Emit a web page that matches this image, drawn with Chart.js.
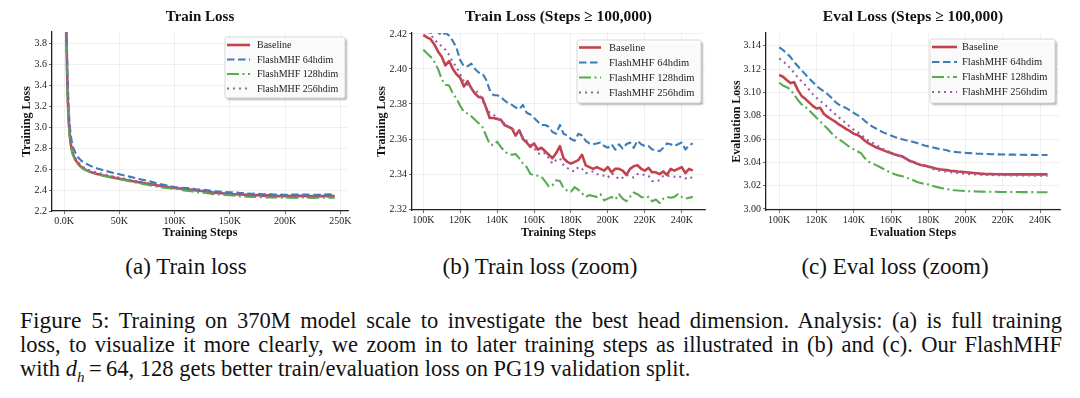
<!DOCTYPE html>
<html><head><meta charset="utf-8">
<script src="https://cdn.jsdelivr.net/npm/chart.js@4.4.0/dist/chart.umd.min.js"></script>
<style>
html,body{margin:0;padding:0;background:#fff;}
body{width:1080px;height:398px;overflow:hidden;position:relative;font-family:"Liberation Serif","Times New Roman",serif;color:#111;}
canvas{position:absolute;top:0;}
.sub{position:absolute;top:255px;width:300px;text-align:center;font-size:23px;line-height:24px;}
.cap{position:absolute;left:20px;top:308px;width:1042px;font-size:22.5px;line-height:24px;}
.cap div{white-space:nowrap;}
.cap span.ln{display:inline-block;}
.cap .fig{font-size:23.5px;}
sub{font-size:15px;line-height:0;}
</style>
</head><body>
<canvas id="ca" width="360" height="240" style="left:0"></canvas>
<canvas id="cb" width="360" height="240" style="left:360px"></canvas>
<canvas id="cc" width="360" height="240" style="left:720px"></canvas>
<div class="sub" style="left:36px">(a) Train loss</div>
<div class="sub" style="left:390px">(b) Train loss (zoom)</div>
<div class="sub" style="left:745px">(c) Eval loss (zoom)</div>
<div class="cap">
<div><span class="ln just"><span class="fig">Figure 5:</span> Training on 370M model scale to investigate the best head dimension. Analysis: (a) is full training</span></div>
<div><span class="ln just">loss, to visualize it more clearly, we zoom in to later training steps as illustrated in (b) and (c). Our FlashMHF</span></div>
<div><span class="ln">with <i>d</i><sub><i>h</i></sub>&#8201;=&#8201;64, 128 gets better train/evaluation loss on PG19 validation split.</span></div>
</div>
<script>
// ---------------- DATA ----------------
const SERIES_LABELS = ['Baseline', 'FlashMHF 64hdim', 'FlashMHF 128hdim', 'FlashMHF 256hdim'];

// (a) full training loss, steps in K
const A_STEPS = [1,2,3,4,5,6,7,8,10,12,14,16,18,20,23,26,30,35,40,45,50,55,60,65,70,75,80,85,90,95,100,105,110,115,120,125,130,135,140,145,150,155,160,165,170,175,180,185,190,195,200,205,210,215,220,225,230,235,240,245];
const A_BASELINE = [4.6,3.9,3.35,3.08,2.93,2.84,2.78,2.74,2.69,2.66,2.635,2.615,2.6,2.59,2.575,2.565,
 2.553,2.54,2.528,2.518,2.508,2.498,2.488,2.478,2.47,2.46,2.452,2.442,2.435,2.427,
 2.419,2.414,2.407,2.402,2.395,2.391,2.384,2.375,2.3715,2.367,2.362,2.359,2.3575,2.354,2.349,2.352,2.346,2.349,2.344,2.3435,
 2.344,2.343,2.3395,2.3447,2.342,2.341,2.3415,2.3425,2.344,2.3425];
const A_64 = [4.8,4.0,3.5,3.2,3.02,2.92,2.86,2.81,2.76,2.72,2.695,2.675,2.66,2.65,2.635,2.62,
 2.605,2.59,2.575,2.562,2.55,2.538,2.525,2.512,2.5,2.488,2.475,2.462,2.45,2.438,
 2.428,2.4215,2.419,2.417,2.405,2.402,2.398,2.3885,2.385,2.381,2.378,2.377,2.372,2.368,2.364,2.366,2.36,2.3625,2.3575,2.358,
 2.355,2.356,2.357,2.357,2.356,2.354,2.355,2.3565,2.358,2.357];
const A_128 = [4.6,3.85,3.3,3.05,2.91,2.83,2.775,2.735,2.685,2.655,2.63,2.61,2.597,2.587,2.573,2.562,
 2.55,2.537,2.525,2.514,2.503,2.492,2.481,2.47,2.46,2.45,2.44,2.43,2.422,2.416,
 2.411,2.4045,2.394,2.388,2.379,2.374,2.369,2.3595,2.3585,2.352,2.3515,2.345,2.3395,2.337,2.3335,2.334,2.33,2.33,2.328,2.3278,
 2.326,2.327,2.3245,2.329,2.3265,2.325,2.326,2.3268,2.327,2.3268];
const A_256 = [4.7,3.95,3.4,3.12,2.96,2.87,2.805,2.76,2.71,2.675,2.65,2.63,2.615,2.603,2.588,2.577,
 2.565,2.551,2.539,2.528,2.518,2.507,2.496,2.486,2.476,2.466,2.456,2.446,2.437,2.43,
 2.4235,2.418,2.413,2.406,2.397,2.39,2.386,2.3765,2.372,2.368,2.3645,2.36,2.3548,2.3515,2.346,2.347,2.342,2.3435,2.341,2.3395,
 2.338,2.338,2.3395,2.339,2.3395,2.336,2.339,2.3388,2.338,2.3378];
const A_XTICKS = [0, 50000, 100000, 150000, 200000, 250000];
const A_XLABELS = ['0.0K', '50K', '100K', '150K', '200K', '250K'];
const A_YTICKS = [2.2, 2.4, 2.6, 2.8, 3.0, 3.2, 3.4, 3.6, 3.8];
const A_YLABELS = ['2.2', '2.4', '2.6', '2.8', '3.0', '3.2', '3.4', '3.6', '3.8'];

// (b) train loss, steps >= 100K (K)
const B_STEPS = [100,102,104,106,108,110,112,114,116,118,120,122,124,126,128,130,132,134,136,138,140,142,144,146,148,150,152,154,156,158,160,162,164,166,168,170,172,174,176,178,180,182,184,186,188,190,192,194,196,198,200,202,204,206,208,210,212,214,216,218,220,222,224,226,228,230,232,234,236,238,240,242,244,246];
const B_BASELINE = [2.4194,2.418,2.417,2.414,2.410,2.407,2.402,2.4045,2.400,2.397,
 2.395,2.390,2.393,2.389,2.386,2.384,2.3835,2.378,2.372,2.372,
 2.3715,2.371,2.368,2.367,2.366,2.362,2.365,2.360,2.358,2.3555,
 2.3575,2.354,2.355,2.353,2.351,2.349,2.352,2.356,2.349,2.347,
 2.346,2.347,2.348,2.351,2.345,2.344,2.343,2.344,2.343,2.342,
 2.344,2.341,2.343,2.343,2.342,2.3395,2.343,2.3445,2.345,2.343,
 2.342,2.3435,2.341,2.341,2.340,2.3415,2.3395,2.343,2.342,2.343,
 2.344,2.3405,2.343,2.342];
const B_64 = [2.428,2.424,2.4205,2.423,2.421,2.419,2.4205,2.419,2.416,2.412,
 2.405,2.4015,2.4015,2.403,2.400,2.398,2.3975,2.394,2.388,2.385,
 2.385,2.384,2.382,2.3805,2.3795,2.378,2.377,2.3795,2.375,2.374,
 2.372,2.370,2.368,2.368,2.367,2.364,2.363,2.368,2.363,2.362,
 2.360,2.359,2.363,2.362,2.359,2.3575,2.357,2.3575,2.358,2.356,
 2.355,2.357,2.354,2.357,2.3545,2.357,2.358,2.355,2.359,2.357,
 2.356,2.356,2.354,2.3538,2.353,2.355,2.3575,2.357,2.356,2.357,
 2.358,2.354,2.3565,2.3575];
const B_128 = [2.411,2.409,2.407,2.404,2.400,2.394,2.391,2.3905,2.386,2.383,
 2.379,2.3755,2.3745,2.373,2.371,2.369,2.367,2.362,2.357,2.3565,
 2.3585,2.3555,2.353,2.3515,2.351,2.3515,2.349,2.346,2.344,2.340,
 2.3395,2.339,2.3385,2.3358,2.333,2.3335,2.3365,2.336,2.332,2.3305,
 2.330,2.3325,2.331,2.329,2.327,2.328,2.3275,2.327,2.3285,2.325,
 2.326,2.327,2.3255,2.3285,2.326,2.3245,2.327,2.3295,2.3285,2.327,
 2.3265,2.327,2.3245,2.3255,2.3235,2.326,2.327,2.3265,2.327,2.3285,
 2.327,2.326,2.3265,2.327];
const B_256 = [2.4235,2.422,2.4195,2.417,2.4145,2.413,2.411,2.408,2.404,2.401,
 2.397,2.393,2.391,2.389,2.388,2.386,2.382,2.378,2.375,2.374,
 2.372,2.370,2.369,2.367,2.366,2.3645,2.364,2.361,2.359,2.357,
 2.3548,2.352,2.351,2.352,2.349,2.346,2.348,2.349,2.345,2.3435,
 2.342,2.3415,2.344,2.343,2.3405,2.341,2.3415,2.340,2.3395,2.339,
 2.338,2.3405,2.339,2.337,2.338,2.3395,2.339,2.338,2.340,2.340,
 2.3395,2.339,2.336,2.336,2.3365,2.339,2.339,2.339,2.3385,2.339,
 2.338,2.3375,2.3385,2.3377];
const B_XTICKS = [100000, 120000, 140000, 160000, 180000, 200000, 220000, 240000];
const B_XLABELS = ['100K', '120K', '140K', '160K', '180K', '200K', '220K', '240K'];
const B_YTICKS = [2.32, 2.34, 2.36, 2.38, 2.40, 2.42];
const B_YLABELS = ['2.32', '2.34', '2.36', '2.38', '2.40', '2.42'];

// (c) eval loss, steps >= 100K (K)
const C_STEPS = [100,102,104,106,108,110,112,114,116,118,120,122,124,126,128,130,132,134,136,138,140,142,144,146,148,150,152,154,156,158,160,162,164,166,168,170,172,174,176,178,180,182,184,186,188,190,192,194,196,198,200,202,204,206,208,210,212,214,216,218,220,222,224,226,228,230,232,234,236,238,240,242,244];
const C_BASELINE = [3.1149,3.1135,3.1106,3.108,3.1088,3.102,3.097,3.0945,3.0915,3.0885,
 3.0862,3.0868,3.0815,3.079,3.077,3.075,3.0725,3.0706,3.0685,3.0668,
 3.0645,3.0635,3.0615,3.0585,3.0563,3.0545,3.0528,3.0517,3.0503,3.049,
 3.048,3.0468,3.0458,3.0452,3.0432,3.0412,3.0403,3.0388,3.0378,3.0372,
 3.0364,3.0356,3.0348,3.0341,3.0337,3.0333,3.0328,3.0325,3.0321,3.0318,
 3.0315,3.0312,3.0309,3.0306,3.0303,3.0301,3.03,3.0299,3.0298,3.0298,
 3.0297,3.0298,3.0297,3.0297,3.0298,3.0297,3.0297,3.0298,3.0297,3.0297,
 3.0298,3.0297,3.0298];
const C_64 = [3.1386,3.1365,3.1335,3.1305,3.126,3.1225,3.119,3.1155,3.112,3.109,
 3.1055,3.103,3.101,3.0985,3.0955,3.092,3.0895,3.088,3.0865,3.0845,
 3.0825,3.0805,3.0785,3.0755,3.073,3.0706,3.069,3.0672,3.0655,3.0643,
 3.063,3.0618,3.0608,3.0598,3.059,3.0583,3.0575,3.0565,3.0555,3.0545,
 3.0537,3.053,3.0522,3.0514,3.051,3.0503,3.0493,3.049,3.0487,3.0484,
 3.0481,3.0479,3.0477,3.0475,3.0474,3.0472,3.0471,3.047,3.0469,3.0468,
 3.0467,3.0467,3.0466,3.0466,3.0465,3.0465,3.0464,3.0464,3.0464,3.0463,
 3.0463,3.0463,3.0463];
const C_128 = [3.1083,3.106,3.1045,3.1026,3.098,3.0935,3.0898,3.0877,3.0846,3.0815,
 3.0782,3.075,3.0718,3.0688,3.0652,3.062,3.0598,3.0577,3.0553,3.053,
 3.0512,3.0495,3.0477,3.0435,3.0405,3.0391,3.0376,3.036,3.0343,3.0326,
 3.0311,3.0298,3.0288,3.028,3.0271,3.0258,3.0246,3.0232,3.0222,3.0216,
 3.0211,3.0199,3.0191,3.0183,3.0176,3.017,3.0165,3.0161,3.0158,3.0156,
 3.0154,3.0152,3.0151,3.015,3.0149,3.0148,3.0148,3.0147,3.0147,3.0146,
 3.0146,3.0146,3.0145,3.0145,3.0145,3.0144,3.0144,3.0144,3.0144,3.0143,
 3.0143,3.0143,3.0143];
const C_256 = [3.1291,3.1268,3.124,3.1208,3.1168,3.1128,3.1095,3.1063,3.1025,3.0985,
 3.0955,3.0925,3.0902,3.0872,3.0842,3.0814,3.0786,3.076,3.0733,3.0705,
 3.068,3.066,3.0637,3.0606,3.0587,3.057,3.055,3.0531,3.0513,3.0498,
 3.0484,3.047,3.0457,3.0445,3.0433,3.0418,3.0403,3.0391,3.038,3.0368,
 3.0357,3.0345,3.0336,3.0329,3.0324,3.032,3.0315,3.0311,3.0307,3.0304,
 3.0301,3.0299,3.0297,3.0295,3.0294,3.0293,3.0292,3.0291,3.029,3.029,
 3.0289,3.0289,3.0288,3.0288,3.0288,3.0287,3.0287,3.0287,3.0286,3.0286,
 3.0286,3.0286,3.0286];
const C_XTICKS = [100000, 120000, 140000, 160000, 180000, 200000, 220000, 240000];
const C_XLABELS = ['100K', '120K', '140K', '160K', '180K', '200K', '220K', '240K'];
const C_YTICKS = [3.00, 3.02, 3.04, 3.06, 3.08, 3.10, 3.12, 3.14];
const C_YLABELS = ['3.00', '3.02', '3.04', '3.06', '3.08', '3.10', '3.12', '3.14'];

// ---------------- STYLE ----------------
const FAMILY = '"Liberation Serif", "Times New Roman", serif';
const STYLES = [
  {color: '#c4424d', width: 2.6, dash: [], order: 3},
  {color: '#3d7db8', width: 2.1, dash: [7.5, 3.5], order: 2},
  {color: '#58ab52', width: 2.1, dash: [12, 3.5, 2, 3.5], order: 1},
  {color: '#9a5ea8', width: 2.1, dash: [2, 4], order: 0},
];

// justify caption lines to the text block width
document.querySelectorAll('.cap span.just').forEach(sp => {
  const target = 1042;
  const w = sp.getBoundingClientRect().width;
  const spaces = (sp.textContent.match(/ /g) || []).length;
  if (spaces > 0) sp.style.wordSpacing = ((target - w) / spaces) + 'px';
});

const overlay = {
  id: 'overlay',
  afterDatasetsDraw(chart, args, o) {
    const ctx = chart.ctx, ca = chart.chartArea;
    ctx.save();
    ctx.font = 'bold ' + o.titleSize + 'px ' + FAMILY;
    ctx.fillStyle = '#111'; ctx.textAlign = 'center'; ctx.textBaseline = 'middle';
    ctx.fillText(o.title, (ca.left + ca.right) / 2, o.titleY);
    const L = o.legend;
    const x = ca.right - L.inset - L.w, y = ca.top + L.top;
    ctx.beginPath();
    ctx.roundRect(x, y, L.w, L.h, 2);
    ctx.shadowColor = 'rgba(0,0,0,0.30)'; ctx.shadowOffsetX = 2; ctx.shadowOffsetY = 2; ctx.shadowBlur = 2;
    ctx.fillStyle = 'rgba(255,255,255,0.93)';
    ctx.fill();
    ctx.shadowColor = 'rgba(0,0,0,0)'; ctx.shadowOffsetX = 0; ctx.shadowOffsetY = 0; ctx.shadowBlur = 0;
    ctx.strokeStyle = '#d6d6d6'; ctx.lineWidth = 1; ctx.stroke();
    chart.data.datasets.forEach((ds, i) => {
      const yy = y + L.first + i * L.row;
      ctx.beginPath();
      ctx.setLineDash(ds.borderDash || []);
      ctx.strokeStyle = ds.borderColor; ctx.lineWidth = ds.borderWidth;
      ctx.moveTo(x + L.s0, yy); ctx.lineTo(x + L.s1, yy); ctx.stroke();
      ctx.setLineDash([]);
      ctx.fillStyle = '#222'; ctx.textAlign = 'left'; ctx.textBaseline = 'middle';
      ctx.font = L.size + 'px ' + FAMILY;
      ctx.fillText(ds.label, x + L.tx, yy + 0.5);
    });
    ctx.restore();
  }
};

function makeChart(id, c) {
  const datasets = c.series.map((vals, i) => ({
    label: SERIES_LABELS[i],
    data: c.steps.map((s, j) => ({x: s * 1000, y: vals[j]})),
    borderColor: STYLES[i].color,
    borderWidth: STYLES[i].width,
    borderDash: STYLES[i].dash,
    order: STYLES[i].order,
    pointRadius: 0, tension: 0, fill: false,
    borderJoinStyle: 'round',
  }));
  const tickFont = {family: FAMILY, size: 10};
  const titleFont = {family: FAMILY, size: 12, weight: 'bold'};
  const grid = {color: 'rgba(0,0,0,0.075)', lineWidth: 0.8, tickLength: 3, tickColor: '#444', drawTicks: true};
  const border = {display: true, color: '#222', width: 1.3};
  return new Chart(document.getElementById(id), {
    type: 'line',
    data: {datasets},
    plugins: [overlay],
    options: {
      responsive: false, animation: false, devicePixelRatio: 1,
      layout: {padding: c.pad},
      plugins: {
        legend: {display: false}, tooltip: {enabled: false},
        overlay: {title: c.title, titleY: 17, titleSize: c.titleSize, legend: c.legend}
      },
      scales: {
        x: {
          type: 'linear', min: c.xmin, max: c.xmax,
          afterBuildTicks: s => { s.ticks = c.xticks.map(v => ({value: v})); },
          afterFit: s => { s.height = c.xh; },
          ticks: {callback: (v, i) => c.xlabels[i], font: tickFont, color: '#222', padding: 1, maxRotation: 0, autoSkip: false},
          grid, border,
          title: {display: true, text: c.xtitle, font: titleFont, color: '#111', padding: {top: 0, bottom: 0}}
        },
        y: {
          type: 'linear', min: c.ymin, max: c.ymax,
          afterBuildTicks: s => { s.ticks = c.yticks.map(v => ({value: v})); },
          afterFit: s => { s.width = c.yw; },
          ticks: {callback: (v, i) => c.ylabels[i], font: tickFont, color: '#222', padding: 2, autoSkip: false},
          grid, border,
          title: {display: true, text: c.ytitle, font: titleFont, color: '#111', padding: {top: 0, bottom: 0}}
        }
      }
    }
  });
}

makeChart('ca', {
  steps: A_STEPS, series: [A_BASELINE, A_64, A_128, A_256],
  xmin: -11000, xmax: 257000, ymin: 2.2, ymax: 3.905,
  xticks: A_XTICKS, xlabels: A_XLABELS, yticks: A_YTICKS, ylabels: A_YLABELS,
  title: 'Train Loss', titleSize: 15, xtitle: 'Training Steps', ytitle: 'Training Loss',
  pad: {left: 20, right: 12, top: 32, bottom: 0}, yw: 32, xh: 29,
  legend: {inset: 3, top: 5, w: 120, h: 61, first: 8, row: 14.5, s0: 2, s1: 25, tx: 32, size: 10}
});
makeChart('cb', {
  steps: B_STEPS, series: [B_BASELINE, B_64, B_128, B_256],
  xmin: 93900, xmax: 252600, ymin: 2.3195, ymax: 2.4205,
  xticks: B_XTICKS, xlabels: B_XLABELS, yticks: B_YTICKS, ylabels: B_YLABELS,
  title: 'Train Loss (Steps \u2265 100,000)', titleSize: 15.5, xtitle: 'Training Steps', ytitle: 'Training Loss',
  pad: {left: 15, right: 15, top: 33, bottom: 0}, yw: 37, xh: 30,
  legend: {inset: 4, top: 7, w: 124, h: 63, first: 7.5, row: 15, s0: 2, s1: 24, tx: 32, size: 10.5}
});
makeChart('cc', {
  steps: C_STEPS, series: [C_BASELINE, C_64, C_128, C_256],
  xmin: 92900, xmax: 250700, ymin: 2.9991, ymax: 3.151,
  xticks: C_XTICKS, xlabels: C_XLABELS, yticks: C_YTICKS, ylabels: C_YLABELS,
  title: 'Eval Loss (Steps \u2265 100,000)', titleSize: 15.5, xtitle: 'Evaluation Steps', ytitle: 'Evaluation Loss',
  pad: {left: 10, right: 20, top: 33, bottom: 0}, yw: 36, xh: 30,
  legend: {inset: 5, top: 6, w: 125, h: 64, first: 8, row: 15, s0: 2, s1: 27, tx: 32, size: 10.5}
});
</script>
</body></html>
